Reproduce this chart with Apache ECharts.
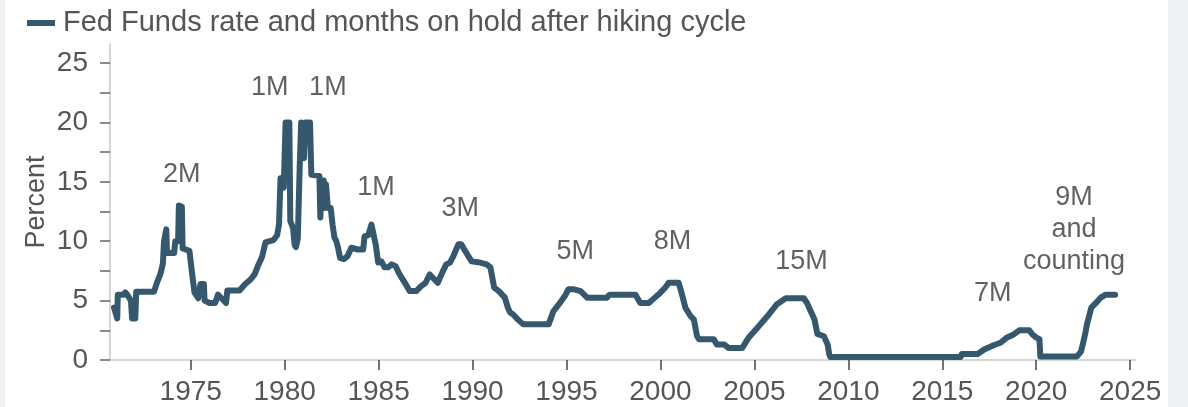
<!DOCTYPE html>
<html>
<head>
<meta charset="utf-8">
<script src="https://cdn.jsdelivr.net/npm/echarts@6/dist/echarts.min.js"></script>
<style>
    html, body {
        margin: 0;
        padding: 0;
    }
    body {
        width: 1188px;
        height: 407px;
        background: linear-gradient(to right, #eef2f5 0, #eef2f5 5px, #ffffff 5px, #ffffff 1168px, #eef2f5 1168px);
    }
    #chart {
        width: 1188px;
        height: 407px;
    }
</style>
</head>
<body>
<div id="chart"></div>
<script>
/* globals echarts */
(function () {
    'use strict';

    var SERIES_NAME = 'Fed Funds rate and months on hold after hiking cycle';

    // Fed funds rate (decimal year / percent)
    var rateYears = [
        1970.92, 1971.09, 1971.12, 1971.45, 1971.52, 1971.62, 1971.82, 1971.88, 1972.05, 1972.10,
        1973.05, 1973.20, 1973.38, 1973.52, 1973.58, 1973.70, 1973.74, 1974.12, 1974.18, 1974.33,
        1974.37, 1974.53, 1974.57, 1974.93, 1975.08, 1975.20, 1975.40, 1975.52, 1975.70, 1975.74,
        1976.00, 1976.30, 1976.45, 1976.70, 1976.88, 1976.95, 1977.60, 1977.90, 1978.20, 1978.40,
        1978.60, 1978.80, 1978.98, 1979.20, 1979.40, 1979.60, 1979.70, 1979.78, 1979.95, 1980.00,
        1980.05, 1980.25, 1980.30, 1980.45, 1980.53, 1980.60, 1980.70, 1980.80, 1980.88, 1980.97,
        1981.03, 1981.10, 1981.35, 1981.42, 1981.85, 1981.90, 1981.97, 1982.08, 1982.12, 1982.20,
        1982.30, 1982.45, 1982.55, 1982.65, 1982.75, 1982.85, 1982.95, 1983.15, 1983.35, 1983.55,
        1983.90, 1984.18, 1984.25, 1984.45, 1984.62, 1984.70, 1984.85, 1984.98, 1985.15, 1985.32,
        1985.50, 1985.70, 1985.90, 1986.12, 1986.40, 1986.65, 1987.00, 1987.25, 1987.50, 1987.72,
        1987.90, 1988.15, 1988.40, 1988.60, 1988.80, 1988.98, 1989.25, 1989.40, 1989.60, 1989.95,
        1990.40, 1990.75, 1990.95, 1991.15, 1991.40, 1991.72, 1991.88, 1992.00, 1992.15, 1992.42,
        1992.70, 1994.05, 1994.30, 1994.60, 1994.92, 1995.10, 1995.40, 1995.75, 1996.10, 1997.15,
        1997.30, 1998.67, 1998.93, 1999.38, 1999.70, 2000.00, 2000.26, 2000.44, 2000.97, 2001.10,
        2001.33, 2001.60, 2001.78, 2001.95, 2002.05, 2002.84, 2003.00, 2003.40, 2003.64, 2004.35,
        2004.70, 2005.15, 2005.70, 2006.20, 2006.67, 2007.63, 2007.80, 2008.00, 2008.20, 2008.35,
        2008.70, 2008.90, 2008.98, 2009.04, 2015.98, 2016.04, 2016.88, 2017.25, 2017.77, 2018.10,
        2018.45, 2018.80, 2019.10, 2019.63, 2019.80, 2019.99, 2020.17, 2020.22, 2022.17, 2022.38,
        2022.52, 2022.62, 2022.70, 2022.80, 2022.93, 2023.18, 2023.43, 2023.70, 2024.20
    ];
    var rateValues = [
        4.4, 3.5, 5.5, 5.5, 5.7, 5.5, 5.0, 3.5, 3.5, 5.75,
        5.75, 6.5, 7.2, 8.1, 10.0, 11.0, 9.0, 9.0, 10.0, 10.0,
        13.0, 12.9, 9.4, 9.2, 7.2, 5.7, 5.2, 6.4, 6.4, 5.0,
        4.8, 4.8, 5.5, 5.1, 4.8, 5.85, 5.85, 6.4, 6.8, 7.2,
        8.0, 8.7, 9.9, 10.0, 10.1, 10.5, 11.4, 15.3, 14.5, 14.5,
        20.0, 20.0, 11.7, 11.1, 9.7, 9.5, 10.2, 16.2, 20.0, 20.0,
        17.0, 20.0, 20.0, 15.6, 15.5, 12.0, 15.1, 15.1, 12.8, 14.8,
        12.8, 12.8, 11.4, 10.3, 10.0, 9.4, 8.6, 8.5, 8.75, 9.45,
        9.3, 9.3, 10.4, 10.5, 11.4, 11.3, 9.7, 8.2, 8.3, 7.8,
        7.8, 8.05, 7.9, 7.2, 6.5, 5.8, 5.8, 6.2, 6.5, 7.2,
        6.9, 6.5, 7.4, 8.05, 8.2, 8.75, 9.75, 9.75, 9.2, 8.3,
        8.2, 8.05, 7.8, 6.1, 5.8, 5.25, 4.4, 4.0, 3.85, 3.4,
        3.0, 3.0, 4.1, 4.7, 5.4, 5.95, 5.95, 5.8, 5.25, 5.25,
        5.5, 5.5, 4.8, 4.8, 5.25, 5.67, 6.1, 6.5, 6.5, 5.8,
        4.4, 3.7, 3.4, 2.0, 1.75, 1.75, 1.3, 1.3, 1.0, 1.0,
        1.9, 2.7, 3.7, 4.7, 5.2, 5.2, 4.8, 4.1, 3.4, 2.2,
        2.0, 1.3, 0.5, 0.25, 0.25, 0.5, 0.5, 0.9, 1.26, 1.45,
        1.9, 2.15, 2.5, 2.5, 2.15, 1.9, 1.75, 0.3, 0.3, 0.7,
        1.6, 2.3, 3.0, 3.6, 4.4, 4.8, 5.25, 5.5, 5.5
    ];

    // "months on hold" notes, anchored at the point they sit on
    var noteLabels = ['2M', '1M', '1M', '1M', '3M', '5M', '8M', '15M', '7M', '9M\nand\ncounting'];
    var noteYears = [1974.52, 1979.21, 1982.30, 1984.86, 1989.34, 1995.47, 2000.64, 2007.51, 2017.69, 2022.01];
    var noteValues = [15.6, 22.9, 22.9, 14.5, 12.75, 9.15, 10.0, 8.3, 5.6, 11.0];

    var xTicks = [1975, 1980, 1985, 1990, 1995, 2000, 2005, 2010, 2015, 2020, 2025];
    var yTicks = [0, 2.5, 5, 7.5, 10, 12.5, 15, 17.5, 20, 22.5, 25];
    var yLabels = [0, 5, 10, 15, 20, 25];

    var FONT = '"Liberation Sans", Arial, sans-serif';
    var plain = function (v) { return String(v); };

    var rateData = rateYears.map(function (y, i) {
        return [y, rateValues[i]];
    });
    var noteData = noteLabels.map(function (label, i) {
        return { name: label, value: [noteYears[i], noteValues[i]] };
    });

    var chart = echarts.init(document.getElementById('chart'), null, { renderer: 'canvas' });

    chart.setOption({
        animation: false,
        textStyle: { fontFamily: FONT },
        legend: {
            data: [SERIES_NAME],
            left: 22,
            top: 3,
            icon: 'rect',
            itemWidth: 28,
            itemHeight: 6,
            itemGap: 10,
            textStyle: {
                fontSize: 29,
                lineHeight: 30,
                color: '#555555',
                fontFamily: FONT,
                padding: [0, 0, 0, 3]
            }
        },
        grid: {
            left: 110,
            right: 52,
            top: 44,
            bottom: 47,
            containLabel: false,
            outerBoundsMode: 'none'
        },
        xAxis: {
            type: 'value',
            min: 1970.705,
            max: 2025.31,
            axisLine: { show: true, lineStyle: { color: '#c8c8c8', width: 1.5 } },
            axisTick: {
                show: true,
                customValues: xTicks,
                length: 10,
                lineStyle: { color: '#444444', width: 1.5 }
            },
            axisLabel: {
                customValues: xTicks,
                formatter: plain,
                fontSize: 28,
                color: '#555555',
                margin: 18,
                fontFamily: FONT
            },
            splitLine: { show: false }
        },
        yAxis: {
            type: 'value',
            min: 0,
            max: 26.6,
            name: 'Percent',
            nameLocation: 'middle',
            nameGap: 60,
            nameMoveOverlap: false,
            nameTextStyle: { fontSize: 27, color: '#555555', fontFamily: FONT },
            axisLine: { show: true, lineStyle: { color: '#c8c8c8', width: 1.5 } },
            axisTick: {
                show: true,
                customValues: yTicks,
                length: 10,
                lineStyle: { color: '#666666', width: 1.5 }
            },
            axisLabel: {
                customValues: yLabels,
                formatter: plain,
                fontSize: 28,
                color: '#555555',
                margin: 22,
                fontFamily: FONT
            },
            splitLine: { show: false }
        },
        series: [
            {
                name: SERIES_NAME,
                type: 'line',
                data: rateData,
                symbol: 'none',
                silent: true,
                itemStyle: { color: '#36586e' },
                lineStyle: { color: '#36586e', width: 6, join: 'round', cap: 'round' }
            },
            {
                name: 'notes',
                type: 'scatter',
                data: noteData,
                symbolSize: 0,
                silent: true,
                label: {
                    show: true,
                    position: 'inside',
                    formatter: '{b}',
                    fontSize: 27,
                    lineHeight: 32,
                    color: '#3a3a3a',
                    fontFamily: FONT
                }
            }
        ]
    });
}());
</script>
</body>
</html>
